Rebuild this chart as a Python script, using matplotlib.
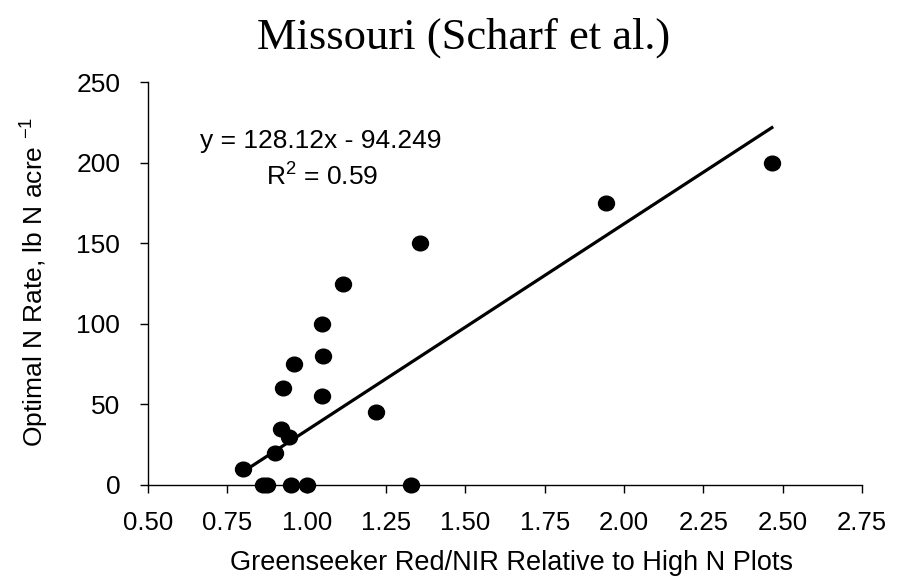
import matplotlib
matplotlib.use("Agg")
import matplotlib.pyplot as plt
import numpy as np
from matplotlib.path import Path

# ---- data ----
relative_red_nir = [0.80, 0.862, 0.876, 0.90, 0.92, 0.944, 0.925, 0.961, 0.95, 1.00,
                    1.047, 1.052, 1.047, 1.114, 1.218, 1.328, 1.357, 1.942, 2.466]
optimal_n_rate = [10, 0, 0, 20, 35, 30, 60, 75, 0, 0,
                  55, 80, 100, 125, 45, 0, 150, 175, 200]
fit_slope = 128.12
fit_intercept = -94.249
r_squared = 0.59
x_ticks = [0.50, 0.75, 1.00, 1.25, 1.50, 1.75, 2.00, 2.25, 2.50, 2.75]
y_ticks = [0, 50, 100, 150, 200, 250]

title = "Missouri (Scharf et al.)"
x_label = "Greenseeker Red/NIR Relative to High N Plots"
y_label = "Optimal N Rate, lb N acre $^{-1}$"

plt.rcParams['font.family'] = ['Liberation Sans', 'DejaVu Sans']
plt.rcParams['mathtext.default'] = 'regular'

W, H = 911, 581
fig = plt.figure(figsize=(W / 100, H / 100), dpi=100)
ax = fig.add_axes([148 / W, (H - 485) / H, (862 - 148) / W, (485 - 82) / H])

# elliptical marker
circ = Path.unit_circle()
ell = Path(circ.vertices * np.array([1.0, 0.92]), circ.codes)

ax.plot(relative_red_nir, optimal_n_rate, linestyle='none', marker=ell,
        markersize=11.5, color='black', zorder=3, clip_on=False)

xs = np.array([min(relative_red_nir), max(relative_red_nir)])
ax.plot(xs, fit_slope * xs + fit_intercept, color='black', linewidth=2.3, zorder=2)

ax.set_xlim(x_ticks[0], x_ticks[-1])
ax.set_ylim(y_ticks[0], y_ticks[-1])
ax.set_xticks(x_ticks)
ax.set_xticklabels([f"{v:.2f}" for v in x_ticks])
ax.set_yticks(y_ticks)
ax.set_yticklabels([str(v) for v in y_ticks])

for s in ['top', 'right']:
    ax.spines[s].set_visible(False)
for s in ['left', 'bottom']:
    ax.spines[s].set_linewidth(1.0)
    ax.spines[s].set_color('black')

ax.tick_params(axis='x', direction='out', length=6, width=1, labelsize=18.5, pad=13)
ax.tick_params(axis='y', direction='out', length=6, width=1, labelsize=19, pad=14)

fig.text(464 / W, 1 - 38 / H, title, ha='center', va='center',
         fontsize=32, family=['Liberation Serif', 'DejaVu Serif'])
fig.text(512 / W, 1 - 563 / H, x_label, ha='center', va='center', fontsize=19.5)
fig.text(35 / W, 1 - 282 / H, y_label, ha='center', va='center', rotation=90,
         fontsize=19)

fig.text(321 / W, 1 - 141 / H, f"y = {fit_slope:.2f}x - {abs(fit_intercept):.3f}",
         ha='center', va='center', fontsize=19)
fig.text(322 / W, 1 - 177 / H, f"R$^{{2}}$ = {r_squared:.2f}",
         ha='center', va='center', fontsize=19)

fig.savefig("out.png", dpi=100)
